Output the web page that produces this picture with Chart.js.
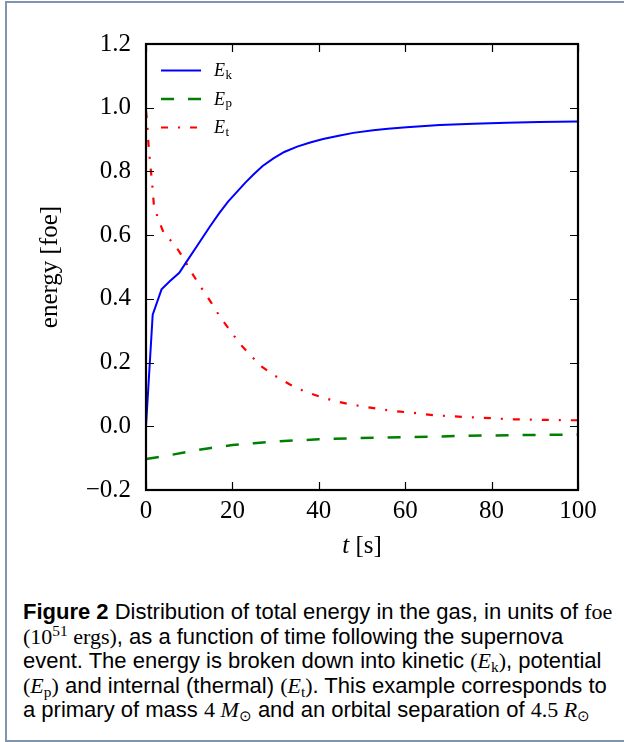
<!DOCTYPE html>
<html>
<head>
<meta charset="utf-8">
<script src="https://cdn.jsdelivr.net/npm/chart.js@4.4.1/dist/chart.umd.min.js"></script>
<style>
  body { margin: 0; background: #fff; width: 624px; height: 742px; overflow: hidden; position: relative; }
  .frame { position: absolute; left: 5px; top: 1px; width: 700px; height: 737px; border: 2px solid #7f95ad; }
  #chart { position: absolute; left: 0; top: 0; }
  .caption { position: absolute; left: 23px; top: 600px; font-family: "Liberation Sans", sans-serif; font-size: 22px; line-height: 24.5px; color: #000; white-space: nowrap; }
  .caption b { font-weight: bold; }
  .m { font-family: "Liberation Serif", serif; }
  .m i { font-style: italic; }
  .m sub { font-size: 70%; vertical-align: -0.25em; line-height: 0; }
  .m sup { font-size: 70%; vertical-align: 0.5em; line-height: 0; }
</style>
</head>
<body>
<div class="frame"></div>
<canvas id="chart" width="624" height="580"></canvas>
<div class="caption">
  <div><b>Figure 2</b> Distribution of total energy in the gas, in units of <span class="m">foe</span></div>
  <div><span class="m">(10<sup>51</sup> ergs)</span>, as a function of time following the supernova</div>
  <div>event. The energy is broken down into kinetic <span class="m">(<i>E</i><sub>k</sub>)</span>, potential</div>
  <div><span class="m">(<i>E</i><sub>p</sub>)</span> and internal (thermal) <span class="m">(<i>E</i><sub>t</sub>)</span>. This example corresponds to</div>
  <div>a primary of mass <span class="m">4 <i>M</i><sub>⊙</sub></span> and an orbital separation of <span class="m">4.5 <i>R</i><sub>⊙</sub></span></div>
</div>
<script>
// kinetic energy
const tKin = [0, 1.55, 3.6, 5.5, 7.7, 9.4, 12, 14.8, 17, 19, 21, 23, 25, 27, 29.5, 32, 35, 38, 41, 44.9, 48, 52.6, 56, 60.3, 68, 75.8, 83.5, 91, 100];
const eKin = [0, 0.35, 0.43, 0.455, 0.482, 0.517, 0.57, 0.627, 0.67, 0.705, 0.735, 0.765, 0.792, 0.817, 0.841, 0.861, 0.878, 0.891, 0.902, 0.913, 0.921, 0.929, 0.934, 0.939, 0.946, 0.950, 0.953, 0.955, 0.957];

// potential energy
const tPot = [0, 5, 10, 15, 20, 25, 30, 35, 40, 46.5, 52.6, 59.6, 65.7, 72.3, 78.8, 85.4, 91.9, 100];
const ePot = [-0.103, -0.092, -0.079, -0.068, -0.059, -0.053, -0.048, -0.044, -0.041, -0.038, -0.036, -0.034, -0.033, -0.030, -0.029, -0.028, -0.027, -0.026];

// thermal energy
const tTh = [0, 0.3, 0.5, 0.8, 1.15, 1.5, 1.85, 2.85, 4, 6.9, 9, 10.9, 12.9, 15.2, 17.1, 19.4, 21.8, 24.1, 26.8, 29.9, 33.2, 36.6, 40.3, 43.8, 47.6, 51.3, 54.9, 58.8, 62.7, 66.4, 70.1, 74, 77.7, 81.5, 85.2, 89, 92.7, 96.5, 100];
const eTh = [0.99, 0.95, 0.90, 0.85, 0.80, 0.75, 0.69, 0.65, 0.61, 0.565, 0.52, 0.475, 0.433, 0.386, 0.344, 0.302, 0.258, 0.224, 0.187, 0.158, 0.132, 0.11, 0.093, 0.079, 0.068, 0.06, 0.052, 0.046, 0.041, 0.035, 0.032, 0.029, 0.027, 0.024, 0.022, 0.021, 0.02, 0.019, 0.019];

const xTicks = [0, 20, 40, 60, 80, 100];
const yTicks = [-0.2, 0, 0.2, 0.4, 0.6, 0.8, 1.0, 1.2];

const legendNames = [["E", "k"], ["E", "p"], ["E", "t"]];

const toPoints = (ts, es) => ts.map((t, i) => ({ x: t, y: es[i] }));

const series = [
  { data: toPoints(tKin, eKin), color: "#0000ff", dash: [], width: 2 },
  { data: toPoints(tPot, ePot), color: "#008000", dash: [13, 14], width: 2.5 },
  { data: toPoints(tTh, eTh), color: "#ff0000", dash: [7, 10, 2, 10], width: 2.2 },
];

const serif = '"Liberation Serif", "DejaVu Serif", serif';

function fmt(v) {
  if (Math.abs(v) < 1e-9) v = 0;
  return (v < 0 ? "\u2212" : "") + Math.abs(v).toFixed(1);
}

const decorPlugin = {
  id: "decor",
  afterDraw(chart) {
    const { ctx, chartArea: a, scales } = chart;
    ctx.save();

    // inward ticks on all four sides
    ctx.strokeStyle = "#000";
    ctx.lineWidth = 1.2;
    ctx.beginPath();
    xTicks.forEach((v) => {
      const px = Math.round(scales.x.getPixelForValue(v)) + 0.5;
      ctx.moveTo(px, a.bottom); ctx.lineTo(px, a.bottom - 8);
      ctx.moveTo(px, a.top); ctx.lineTo(px, a.top + 8);
    });
    yTicks.forEach((v) => {
      const py = Math.round(scales.y.getPixelForValue(v)) + 0.5;
      ctx.moveTo(a.left, py); ctx.lineTo(a.left + 8, py);
      ctx.moveTo(a.right, py); ctx.lineTo(a.right - 8, py);
    });
    ctx.stroke();

    // frame
    ctx.lineWidth = 2.2;
    ctx.strokeRect(a.left, a.top, a.right - a.left, a.bottom - a.top);

    // legend
    const rows = [70.5, 99, 127.5];
    series.forEach((s, i) => {
      ctx.beginPath();
      ctx.strokeStyle = s.color;
      ctx.lineWidth = s.width;
      ctx.setLineDash(s.dash);
      ctx.moveTo(a.left + 15, rows[i]);
      ctx.lineTo(a.left + 55, rows[i]);
      ctx.stroke();
      ctx.setLineDash([]);
      ctx.fillStyle = "#000";
      ctx.textBaseline = "alphabetic";
      ctx.textAlign = "left";
      ctx.font = "italic 18px " + serif;
      const x0 = a.left + 68;
      ctx.fillText(legendNames[i][0], x0, rows[i] + 5.5);
      const w = ctx.measureText(legendNames[i][0]).width;
      ctx.font = "13px " + serif;
      ctx.fillText(legendNames[i][1], x0 + w + 0.5, rows[i] + 8);
    });

    // x axis title
    ctx.fillStyle = "#000";
    ctx.font = "italic 25px " + serif;
    const tW = ctx.measureText("t").width;
    ctx.font = "25px " + serif;
    const rest = " [s]";
    const rW = ctx.measureText(rest).width;
    const cx = (a.left + a.right) / 2;
    let sx = cx - (tW + rW) / 2;
    ctx.textAlign = "left";
    ctx.font = "italic 25px " + serif;
    ctx.fillText("t", sx, 553);
    ctx.font = "25px " + serif;
    ctx.fillText(rest, sx + tW, 553);

    // y axis title
    ctx.translate(57, (a.top + a.bottom) / 2);
    ctx.rotate(-Math.PI / 2);
    ctx.textAlign = "center";
    ctx.fillText("energy [foe]", 0, 0);

    ctx.restore();
  },
};

new Chart(document.getElementById("chart"), {
  type: "line",
  data: {
    datasets: series.map((s) => ({
      data: s.data,
      borderColor: s.color,
      borderWidth: s.width,
      borderDash: s.dash,
      pointRadius: 0,
      tension: 0,
      fill: false,
    })),
  },
  options: {
    responsive: false,
    animation: false,
    events: [],
    layout: { padding: { top: 44, right: 46, left: 0, bottom: 0 } },
    plugins: { legend: { display: false }, tooltip: { enabled: false } },
    scales: {
      x: {
        type: "linear",
        min: 0,
        max: 100,
        afterBuildTicks: (s) => { s.ticks = xTicks.map((v) => ({ value: v })); },
        afterFit: (s) => { s.height = 580 - 490; },
        grid: { display: false },
        border: { display: false },
        ticks: { font: { family: serif, size: 25 }, color: "#000", padding: -2, maxRotation: 0 },
      },
      y: {
        type: "linear",
        min: -0.2,
        max: 1.2,
        afterBuildTicks: (s) => { s.ticks = yTicks.map((v) => ({ value: v })); },
        afterFit: (s) => { s.width = 146; },
        grid: { display: false },
        border: { display: false },
        ticks: { font: { family: serif, size: 25 }, color: "#000", padding: 7, callback: fmt },
      },
    },
  },
  plugins: [decorPlugin],
});
</script>
</body>
</html>
